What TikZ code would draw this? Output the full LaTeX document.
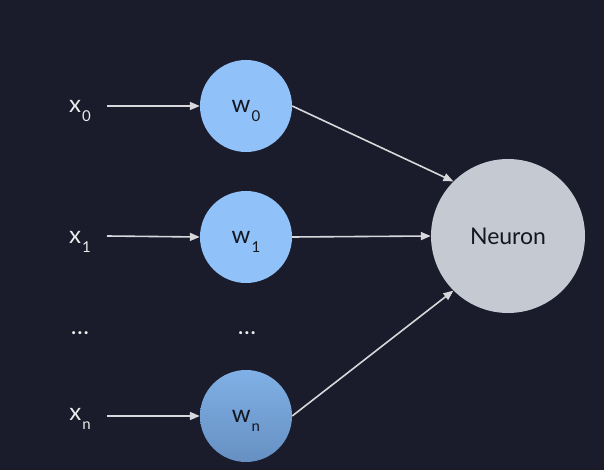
\documentclass[tikz,border=0pt]{standalone}
\usepackage{fontspec}
\setmainfont{Lato}
\usetikzlibrary{arrows.meta}
\definecolor{bg}{HTML}{1A1B2B}
\definecolor{wlight}{HTML}{90C2F9}
\definecolor{wntop}{HTML}{80B0E6}
\definecolor{wnbot}{HTML}{6690C2}
\definecolor{neur}{HTML}{C4C9D2}
\definecolor{arr}{HTML}{D8D8DC}
\definecolor{lbl}{HTML}{ECECEC}
\definecolor{dark}{HTML}{15161F}
\newcommand{\lab}[2]{\raisebox{-3pt}{#1\raisebox{-9pt}[0pt][0pt]{\fontsize{15}{15}\selectfont\hspace{1pt}#2}}}
\begin{document}
\begin{tikzpicture}[x=1pt,y=-1pt,
  inp/.style={text=lbl,font=\fontsize{24}{24}\selectfont,inner sep=0pt},
  wnode/.style={circle,minimum size=92pt,inner sep=0pt,text=dark,font=\fontsize{24}{24}\selectfont},
  conn/.style={draw=arr,line width=1.6pt,-{Triangle[length=10pt,width=8pt]}},
  dots/.style={text=lbl,font=\bfseries\fontsize{20}{20}\selectfont,inner sep=0pt}]
\fill[bg] (0,0) rectangle (604,470);
\useasboundingbox (0,0) rectangle (604,470);
\node[inp] (x0) at (80,106) {\lab{x}{0}};
\node[inp] (x1) at (80,237) {\lab{x}{1}};
\node[inp] (xn) at (80,414) {\lab{x}{n}};
\node[dots] (d1) at (80,333) {.\hspace{1.5pt}.\hspace{1.5pt}.};
\node[dots] (d2) at (247,333) {.\hspace{1.5pt}.\hspace{1.5pt}.};
\node[wnode,fill=wlight] (w0) at (246,106) {\lab{w}{0}};
\node[wnode,fill=wlight] (w1) at (246,237) {\lab{w}{1}};
\node[wnode,top color=wntop,bottom color=wnbot] (wn) at (246,416) {\lab{w}{n}};
\node[circle,minimum size=154pt,inner sep=0pt,fill=neur,text=dark,font=\fontsize{23}{23}\selectfont] (ne) at (508,236) {Neuron};
\coordinate (s0) at (107,106);
\coordinate (s1) at (107,236);
\coordinate (sn) at (107,416);
\draw[conn] (s0) -- (w0.west);
\draw[conn] (s1) -- (w1.west);
\draw[conn] (sn) -- (wn.west);
\draw[conn] (w0.east) -- (ne.north west);
\draw[conn] (w1.east) -- (ne.west);
\draw[conn] (wn.east) -- (ne.south west);
\end{tikzpicture}
\end{document}
